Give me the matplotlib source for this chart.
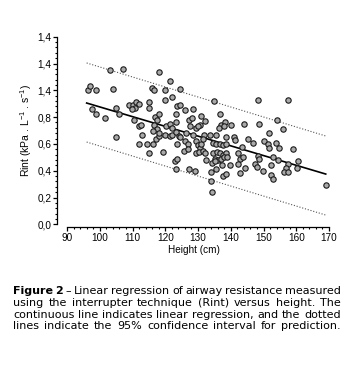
import matplotlib
matplotlib.use("Agg")
import matplotlib.pyplot as plt
from matplotlib.ticker import MultipleLocator, FixedLocator, FixedFormatter

plt.rcParams["font.family"] = ["Liberation Sans", "DejaVu Sans"]
plt.rcParams["mathtext.fontset"] = "custom"
plt.rcParams["mathtext.rm"] = "Liberation Sans"

# height (cm) and Rint
height = [
    103, 107, 118, 121.5, 96.5, 97, 99, 104, 116, 116.5, 120, 122, 120,
    97.5, 99, 101.5, 105, 106, 109, 110, 111, 112, 110.8, 109.8, 115, 115,
    110.5, 112, 112.5, 117, 118, 117.4, 116.6, 117.4, 116.3, 105, 112, 113,
    114.3, 116.4, 115, 117.2, 118, 118.2, 119.2, 120.2, 121.5, 122, 119.8,
    121.4, 122.2, 123.4, 124.2, 124.6, 123.7, 122.9, 123.7, 123.4, 124.4,
    135, 123.6, 124.6, 126, 128.5, 123.4, 130.8, 136.6, 127.3, 128.3, 132,
    130.5, 123.4, 127.5, 129.5, 130.1, 137.1, 138.2, 136.4, 137.9, 140.2,
    144, 126.4, 128.5, 131.7, 133.6, 135.5, 148.2, 157.6, 154, 148.7, 156.1,
    151.7, 125.9, 126.9, 125.6, 126.9, 129.5, 130, 130.5, 131, 131.5, 129.5,
    130.2, 131.5, 132.1, 134.6, 135.6, 136.8, 137.6, 138.5, 134.6, 135.8,
    136.8, 137.6, 138.6, 135.1, 136.1, 137.1, 137.9, 138.9, 132.5, 134.4,
    135.1, 137.4, 139.7, 138.5, 140.9, 141.2, 142.2, 142.7, 143.7, 143.5,
    142.2, 142.9, 144.3, 127.3, 129, 134.1, 135.6, 133.9, 137.6, 138.6,
    134.4, 145.4, 146.8, 150.2, 151.3, 151.8, 153.8, 154.6, 159.1, 148.2,
    148.5, 152.8, 154.3, 160.4, 157.4, 156.9, 147.5, 148, 149.8, 152.3,
    160.1, 156.4, 157.4, 152.3, 152.8, 169.1,
]
rint = [
    1.15, 1.16, 1.14, 1.07, 1.00, 1.03, 1.00, 1.01, 1.02, 1.00, 1.00, 0.95,
    0.93, 0.86, 0.82, 0.79, 0.87, 0.82, 0.89, 0.89, 0.91, 0.90, 0.87, 0.86,
    0.91, 0.87, 0.78, 0.73, 0.74, 0.80, 0.82, 0.78, 0.74, 0.71, 0.70, 0.65,
    0.60, 0.67, 0.60, 0.60, 0.53, 0.64, 0.66, 0.68, 0.54, 0.73, 0.75, 0.72,
    0.67, 0.66, 0.67, 0.69, 0.66, 0.65, 0.60, 0.47, 0.49, 0.41, 1.01, 0.92,
    0.88, 0.89, 0.85, 0.86, 0.82, 0.81, 0.82, 0.78, 0.79, 0.77, 0.74, 0.76,
    0.73, 0.72, 0.73, 0.74, 0.76, 0.72, 0.73, 0.74, 0.75, 0.68, 0.67, 0.67,
    0.67, 0.67, 0.93, 0.93, 0.78, 0.75, 0.71, 0.68, 0.62, 0.60, 0.55, 0.56,
    0.62, 0.59, 0.57, 0.60, 0.64, 0.53, 0.54, 0.55, 0.53, 0.61, 0.60, 0.60,
    0.59, 0.60, 0.53, 0.54, 0.53, 0.52, 0.53, 0.49, 0.48, 0.49, 0.50, 0.50,
    0.48, 0.46, 0.47, 0.44, 0.44, 0.65, 0.65, 0.63, 0.53, 0.49, 0.50, 0.58,
    0.45, 0.38, 0.42, 0.41, 0.40, 0.39, 0.41, 0.32, 0.36, 0.375, 0.24, 0.64,
    0.61, 0.62, 0.60, 0.57, 0.61, 0.57, 0.56, 0.51, 0.49, 0.50, 0.48, 0.47,
    0.45, 0.42, 0.45, 0.43, 0.40, 0.44, 0.42, 0.39, 0.39, 0.37, 0.34, 0.29,
]

# regression line and 95% prediction band (end points)
fit_x = [96, 169]
fit_y = [0.905, 0.375]
upper_y = [1.204, 0.659]
lower_y = [0.614, 0.069]

yticks = [0.0, 0.2, 0.4, 0.6, 0.8, 1.0, 1.2, 1.4]
ytick_labels = ["0,0", "0,2", "0,4", "0,6", "0,8", "1,4", "1,4", "1,4"]
xticks = [90, 100, 110, 120, 130, 140, 150, 160, 170]

caption = [
    "Figure 2 – Linear regression of airway resistance measured",
    "using the interrupter technique (Rint) versus height. The",
    "continuous line indicates linear regression, and the dotted",
    "lines indicate the 95% confidence interval for prediction.",
]

fig = plt.figure(figsize=(3.51, 3.67), dpi=100)
ax = fig.add_axes([67 / 351, 142.7 / 367, 262 / 351, 187.6 / 367])

ax.plot(fit_x, upper_y, color="#555555", lw=0.8, ls=(0, (1, 1.6)))
ax.plot(fit_x, lower_y, color="#555555", lw=0.8, ls=(0, (1, 1.6)))
ax.plot(fit_x, fit_y, color="black", lw=1.2)
ax.scatter(height, rint, s=15, facecolor="#a9a9a9", edgecolor="#1a1a1a",
           linewidths=0.8, zorder=3)

ax.set_xlim(90, 170)
ax.set_ylim(0, 1.4)
for s in ["top", "right"]:
    ax.spines[s].set_visible(False)
ax.spines["left"].set_position(("outward", 7.2))
ax.spines["bottom"].set_position(("outward", 2))
ax.spines["left"].set_linewidth(0.9)
ax.spines["bottom"].set_linewidth(0.9)

ax.yaxis.set_major_locator(FixedLocator(yticks))
ax.yaxis.set_major_formatter(FixedFormatter(ytick_labels))
ax.yaxis.set_minor_locator(MultipleLocator(0.04))
ax.xaxis.set_major_locator(FixedLocator(xticks))
ax.xaxis.set_minor_locator(MultipleLocator(2))
ax.tick_params(which="major", length=3, width=0.9, labelsize=7.2, pad=1.2)
ax.tick_params(which="minor", length=1.6, width=0.8)

ax.set_xlabel("Height (cm)", fontsize=7.2)
ax.xaxis.set_label_coords(0.485, -0.11)
ax.set_ylabel(r"Rint (kPa . L$^{-1}$ . s$^{-1}$)", fontsize=7.5)
ax.yaxis.set_label_coords(-0.125, 0.5)

# justified caption, one word at a time
renderer = fig.canvas.get_renderer()
left_px, right_px = 13, 341
base_px = [294.3, 305.9, 317.5, 329.1]

# pick a size so the longest line fits with ordinary spaces
probe = [fig.text(0, 0, ln, fontsize=7, family="DejaVu Sans") for ln in caption]
widest = max(t.get_window_extent(renderer).width for t in probe)
for t in probe:
    t.remove()
size = 7 * (right_px - left_px) / widest

for i, line in enumerate(caption):
    words = line.split(" ")
    texts = []
    for j, w in enumerate(words):
        bold = i == 0 and j < 2
        t = fig.text(0, 0, w, fontsize=size, family="DejaVu Sans",
                     fontweight="bold" if bold else "normal",
                     ha="left", va="baseline")
        texts.append(t)
    widths = [t.get_window_extent(renderer).width for t in texts]
    gap = (right_px - left_px - sum(widths)) / (len(words) - 1)
    x = left_px
    for t, w in zip(texts, widths):
        t.set_position((x / 351, 1 - base_px[i] / 367))
        x += w + gap

fig.savefig("out.png", dpi=100)
